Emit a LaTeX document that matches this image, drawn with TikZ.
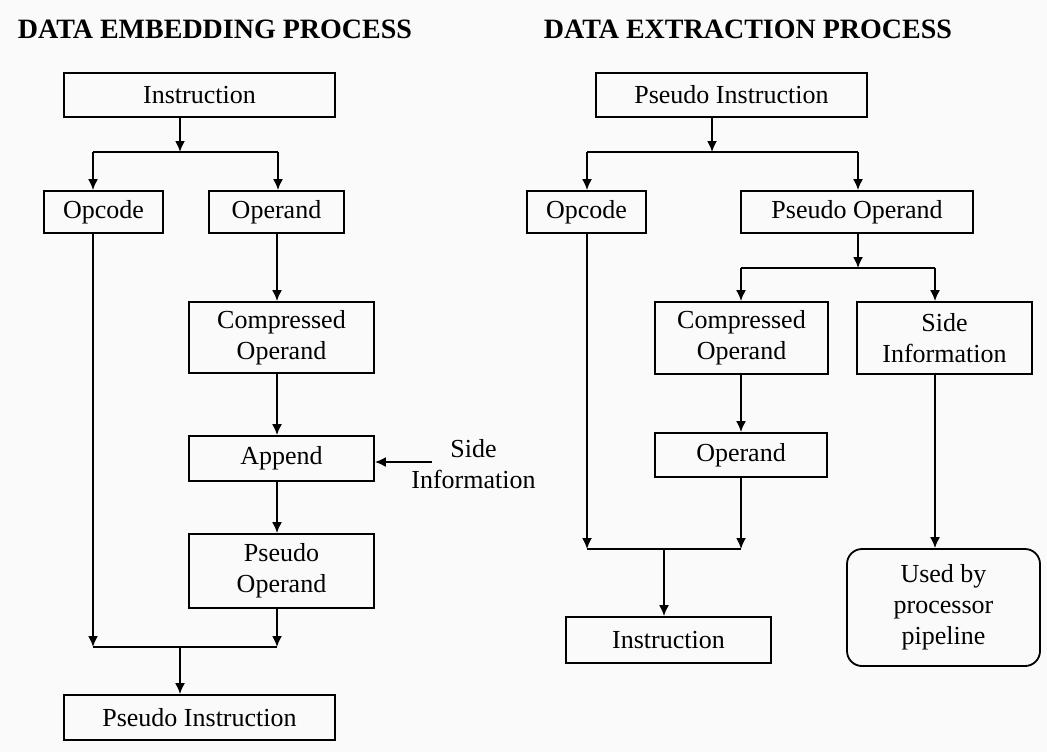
\documentclass[tikz,border=0pt]{standalone}
\usepackage{fontspec}
\setmainfont{Liberation Serif}
\usepackage{xcolor}
\usepackage{tikz}
\usetikzlibrary{positioning,arrows.meta}
\definecolor{paper}{RGB}{250,250,250}

\begin{document}
\begin{tikzpicture}[x=0.5pt, y=-0.5pt, line width=0.9pt,
  box/.style={draw, inner sep=0pt, align=center, font=\fontsize{13}{15.6}\selectfont},
  title/.style={anchor=base west, inner sep=0pt, font=\bfseries\fontsize{14}{16}\selectfont},
  arr/.style={-{Latex[length=5.5pt,width=5pt]}}]
\fill[paper] (0,0) rectangle (1047,752);
\useasboundingbox (0,0) rectangle (1047,752);

\node[title] (embtitle) at (17,38) {DATA EMBEDDING PROCESS};
\node[title] (exttitle) at (543,38) {DATA EXTRACTION PROCESS};

% embedding side
\node[box, minimum width=135.5pt, minimum height=22pt] (instr) at (199.5,95) {Instruction};
\node[box, minimum width=59.5pt, minimum height=21pt] (opcode) at (103.5,212) {Opcode};
\node[box, minimum width=67.5pt, minimum height=21pt] (operand) at (276.5,212) {Operand};
\node[box, minimum width=92.5pt, minimum height=35.5pt] (compr) at (281.5,337.5) {Compressed\\Operand};
\node[box, minimum width=92.5pt, minimum height=22.5pt] (append) at (281.5,458.5) {Append};
\node[box, minimum width=92.5pt, minimum height=37pt] (pseudoop) at (281.5,571) {Pseudo\\Operand};
\node[box, minimum width=135.5pt, minimum height=22.5pt] (pseudoins) at (199.5,717.5) {Pseudo Instruction};
\node[align=center, inner sep=0pt, font=\fontsize{13}{15.6}\selectfont] (side) at (473.5,464) {Side\\Information};

\coordinate (split) at (180,152);
\coordinate (splitl) at (93,152);
\coordinate (splitr) at (278,152);
\coordinate (join) at (180,647);
\coordinate (joinl) at (93,647);
\coordinate (joinr) at (277,647);
\coordinate (sidein) at (432,462);

\draw[arr] (instr.south -| split) -- (split);
\draw (splitl) -- (splitr);
\draw[arr] (splitl) -- (opcode.north -| splitl);
\draw[arr] (splitr) -- (operand.north -| splitr);
\draw[arr] (operand.south -| joinr) -- (compr.north -| joinr);
\draw[arr] (compr.south -| joinr) -- (append.north -| joinr);
\draw[arr] (sidein) -- (append.east |- sidein);
\draw[arr] (append.south -| joinr) -- (pseudoop.north -| joinr);
\draw[arr] (opcode.south -| joinl) -- (joinl);
\draw[arr] (pseudoop.south -| joinr) -- (joinr);
\draw (joinl) -- (joinr);
\draw[arr] (join) -- (pseudoins.north -| join);

% extraction side
\node[box, minimum width=135.5pt, minimum height=22pt] (xpseudoins) at (731.5,95) {Pseudo Instruction};
\node[box, minimum width=59.5pt, minimum height=21pt] (xopcode) at (586.5,212) {Opcode};
\node[box, minimum width=116pt, minimum height=21pt] (xpseudoop) at (857,212) {Pseudo Operand};
\node[box, minimum width=86.5pt, minimum height=36pt] (xcompr) at (741.5,338) {Compressed\\Operand};
\node[box, minimum width=87.5pt, minimum height=36pt] (xside) at (944.5,338) {Side\\Information};
\node[box, minimum width=86pt, minimum height=22pt] (xoperand) at (741,455) {Operand};
\node[box, minimum width=102.5pt, minimum height=23pt] (xinstr) at (668.5,640) {Instruction};
\node[box, rounded corners=7.5pt, minimum width=96.5pt, minimum height=58.5pt] (used) at (943.5,607.5) {Used by\\processor\\pipeline};

\coordinate (xsplit) at (712,152);
\coordinate (xsplitl) at (587,152);
\coordinate (xsplitr) at (858,152);
\coordinate (osplit) at (858,268);
\coordinate (osplitl) at (741,268);
\coordinate (osplitr) at (935,268);
\coordinate (xjoin) at (664,549);
\coordinate (xjoinl) at (587,549);
\coordinate (xjoinr) at (741,549);

\draw[arr] (xpseudoins.south -| xsplit) -- (xsplit);
\draw (xsplitl) -- (xsplitr);
\draw[arr] (xsplitl) -- (xopcode.north -| xsplitl);
\draw[arr] (xsplitr) -- (xpseudoop.north -| xsplitr);
\draw[arr] (xpseudoop.south -| osplit) -- (osplit);
\draw (osplitl) -- (osplitr);
\draw[arr] (osplitl) -- (xcompr.north -| osplitl);
\draw[arr] (osplitr) -- (xside.north -| osplitr);
\draw[arr] (xcompr.south -| osplitl) -- (xoperand.north -| osplitl);
\draw[arr] (xside.south -| osplitr) -- (used.north -| osplitr);
\draw[arr] (xopcode.south -| xjoinl) -- (xjoinl);
\draw[arr] (xoperand.south -| xjoinr) -- (xjoinr);
\draw (xjoinl) -- (xjoinr);
\draw[arr] (xjoin) -- (xinstr.north -| xjoin);
\end{tikzpicture}
\end{document}
